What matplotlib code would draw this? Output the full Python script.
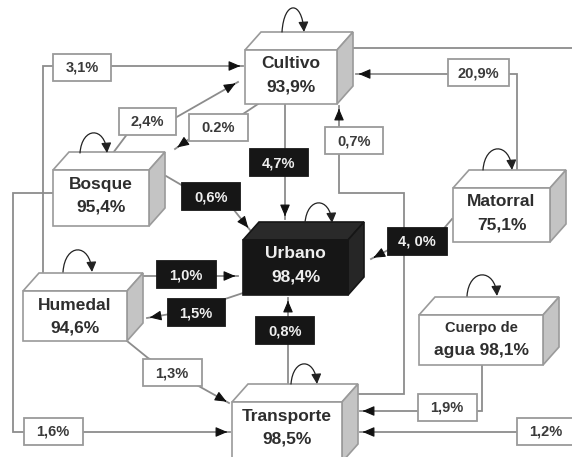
import matplotlib
matplotlib.use("Agg")
import matplotlib.pyplot as plt
from matplotlib.patches import Polygon, Rectangle, FancyArrowPatch
from matplotlib.path import Path

plt.rcParams['font.family'] = ['Liberation Sans', 'DejaVu Sans']

# nodes: land cover classes and their persistence
nodes = ['Cultivo', 'Bosque', 'Urbano', 'Matorral', 'Humedal', 'Cuerpo de agua', 'Transporte']
persistence = ['93,9%', '95,4%', '98,4%', '75,1%', '94,6%', '98,1%', '98,5%']

# transitions between classes
flow_src = ['Humedal', 'Bosque', 'Cultivo', 'Cultivo', 'Bosque', 'Transporte', 'Matorral',
            'Matorral', 'Humedal', 'Urbano', 'Transporte', 'Humedal', 'Bosque',
            'Cuerpo de agua', 'Cultivo']
flow_dst = ['Cultivo', 'Cultivo', 'Bosque', 'Urbano', 'Urbano', 'Cultivo', 'Cultivo',
            'Urbano', 'Urbano', 'Humedal', 'Urbano', 'Transporte', 'Transporte',
            'Transporte', 'Transporte']
flow_pct = ['3,1%', '2,4%', '0.2%', '4,7%', '0,6%', '0,7%', '20,9%',
            '4, 0%', '1,0%', '1,5%', '0,8%', '1,3%', '1,6%', '1,9%', '1,2%']

# ---- layout (pixel coordinates) ----
box_pos = {  # front face x0, y0, x1, y1
    'Cultivo': (245, 50, 337, 104),
    'Bosque': (53, 170, 149, 226),
    'Urbano': (243, 240, 348, 295),
    'Matorral': (453, 188, 550, 242),
    'Humedal': (23, 291, 127, 341),
    'Cuerpo de agua': (419, 315, 543, 365),
    'Transporte': (232, 402, 342, 462),
}
depth = (16, 18)

label_pos = [(82, 67), (147, 121), (218, 127), (279, 162), (211, 196), (354, 140), (478, 72),
             (417, 241), (186, 274), (196, 312), (285, 330), (172, 372), (53, 431),
             (447, 407), (546, 431)]
label_w = [58, 57, 59, 58, 58, 58, 61, 59, 59, 57, 58, 59, 59, 59, 58]

routes = [
    [(43, 272), (43, 66), (243, 66)],
    [(113, 153), (128, 133), (175, 118), (238, 82)],
    [(258, 104), (240, 116), (192, 137), (175, 149)],
    [(285, 104), (285, 219)],
    [(166, 176), (190, 190), (230, 205), (250, 230)],
    [(358, 394), (404, 394), (404, 193), (339, 193), (339, 106)],
    [(517, 170), (517, 74), (356, 74)],
    [(452, 219), (440, 233), (392, 248), (371, 259)],
    [(142, 276), (238, 276)],
    [(243, 293), (222, 300), (170, 314), (147, 318)],
    [(288, 384), (288, 298)],
    [(127, 341), (148, 358), (195, 384), (229, 403)],
    [(53, 193), (13, 193), (13, 432), (230, 432)],
    [(482, 365), (482, 411), (360, 411)],
    [(353, 48), (580, 48), (580, 432), (360, 432)],
]

loops = {
    'Cultivo': (282, 304, 32, 8),
    'Bosque': (80, 107, 153, 133),
    'Urbano': (305, 332, 223, 203),
    'Matorral': (483, 512, 170, 149),
    'Humedal': (63, 92, 272, 250),
    'Cuerpo de agua': (467, 497, 296, 275),
    'Transporte': (291, 317, 384, 364),
}

line_col = '#8c8c8c'
edge_col = '#9a9a9a'
txt_col = '#2e2e2e'

fig = plt.figure(figsize=(5.72, 4.57), dpi=100)
ax = fig.add_axes([0, 0, 1, 1])
ax.set_xlim(0, 572)
ax.set_ylim(457, 0)
ax.axis('off')


def arrow_head(p0, p1):
    # short black arrowhead at the end of segment p0 -> p1
    dx, dy = p1[0] - p0[0], p1[1] - p0[1]
    n = (dx ** 2 + dy ** 2) ** 0.5
    start = (p1[0] - dx / n * 7, p1[1] - dy / n * 7)
    a = FancyArrowPatch(start, p1, arrowstyle='-|>,head_length=0.7,head_width=0.3',
                        mutation_scale=10, color='#111111', lw=0.8, zorder=4)
    ax.add_patch(a)


# connectors
for i, pct in enumerate(flow_pct):
    pts = routes[i]
    xs = [p[0] for p in pts]
    ys = [p[1] for p in pts]
    ax.plot(xs, ys, color=line_col, lw=1.3, zorder=1, solid_joinstyle='miter')
    arrow_head(pts[-2], pts[-1])

    dark = 'Urbano' in (flow_src[i], flow_dst[i])
    cx, cy = label_pos[i]
    w, h = label_w[i], 27
    ax.add_patch(Rectangle((cx - w / 2, cy - h / 2), w, h,
                           facecolor='#161616' if dark else 'white',
                           edgecolor='#161616' if dark else edge_col, lw=1.3, zorder=5))
    ax.text(cx, cy + 1, pct, ha='center', va='center', fontsize=10.5, fontweight='bold',
            color='#eeeeee' if dark else '#3a3a3a', zorder=6)

# boxes
dx, dy = depth
for name, val in zip(nodes, persistence):
    x0, y0, x1, y1 = box_pos[name]
    dark = name == 'Urbano'
    front = '#161616' if dark else 'white'
    top = '#2a2a2a' if dark else 'white'
    side = '#262626' if dark else '#c4c4c4'
    ec = '#161616' if dark else edge_col
    ax.add_patch(Polygon([(x0, y0), (x0 + dx, y0 - dy), (x1 + dx, y0 - dy), (x1, y0)],
                         closed=True, facecolor=top, edgecolor=ec, lw=1.2, zorder=2))
    ax.add_patch(Polygon([(x1, y0), (x1 + dx, y0 - dy), (x1 + dx, y1 - dy), (x1, y1)],
                         closed=True, facecolor=side, edgecolor=ec, lw=1.2, zorder=2))
    ax.add_patch(Polygon([(x0, y0), (x1, y0), (x1, y1), (x0, y1)],
                         closed=True, facecolor=front, edgecolor=ec, lw=1.2, zorder=3))
    tc = '#eeeeee' if dark else txt_col
    cx = (x0 + x1) / 2
    if name == 'Cuerpo de agua':
        ax.text(cx, y0 + 13, 'Cuerpo de', ha='center', va='center', fontsize=10.5,
                fontweight='bold', color=tc, zorder=6)
        ax.text(cx, y0 + 36, 'agua ' + val, ha='center', va='center', fontsize=12.5,
                fontweight='bold', color=tc, zorder=6)
    else:
        ax.text(cx, y0 + 14, name, ha='center', va='center', fontsize=12.5,
                fontweight='bold', color=tc, zorder=6)
        ax.text(cx, y0 + 37, val, ha='center', va='center', fontsize=12.5,
                fontweight='bold', color=tc, zorder=6)

    # self loop (persistence)
    xa, xb, yb, yp = loops[name]
    h = (yb - yp) * 1.33
    path = Path([(xa, yb), (xa + 2, yb - h), (xb - 2, yb - h), (xb, yb)],
                [Path.MOVETO, Path.CURVE4, Path.CURVE4, Path.CURVE4])
    ax.add_patch(FancyArrowPatch(path=path, arrowstyle='-|>,head_length=0.6,head_width=0.3',
                                 mutation_scale=10, color='#222222', lw=0.9, zorder=4))

fig.savefig('out.png', dpi=100)
